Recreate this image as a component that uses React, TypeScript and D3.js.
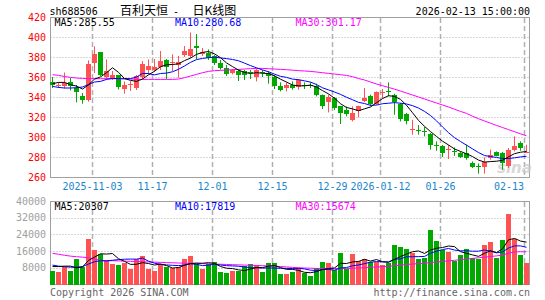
import React from 'react';
import * as d3 from 'd3';

const dates = [
  '2025-10-23','2025-10-24','2025-10-27','2025-10-28','2025-10-29','2025-10-30','2025-10-31',
  '2025-11-03','2025-11-04','2025-11-05','2025-11-06','2025-11-07','2025-11-10','2025-11-11','2025-11-12','2025-11-13','2025-11-14',
  '2025-11-17','2025-11-18','2025-11-19','2025-11-20','2025-11-21','2025-11-24','2025-11-25','2025-11-26','2025-11-27','2025-11-28',
  '2025-12-01','2025-12-02','2025-12-03','2025-12-04','2025-12-05','2025-12-08','2025-12-09','2025-12-10','2025-12-11','2025-12-12',
  '2025-12-15','2025-12-16','2025-12-17','2025-12-18','2025-12-19','2025-12-22','2025-12-23','2025-12-24','2025-12-25','2025-12-26',
  '2025-12-29','2025-12-30','2025-12-31',
  '2026-01-05','2026-01-06','2026-01-07','2026-01-08','2026-01-09','2026-01-12','2026-01-13','2026-01-14','2026-01-15','2026-01-16',
  '2026-01-19','2026-01-20','2026-01-21','2026-01-22','2026-01-23','2026-01-26','2026-01-27','2026-01-28','2026-01-29','2026-01-30',
  '2026-02-02','2026-02-03','2026-02-04','2026-02-05','2026-02-06','2026-02-09','2026-02-10','2026-02-11','2026-02-12','2026-02-13',
];

const openP = [
  355, 351.5, 351, 354.6, 349, 341.3, 336.6, 374, 384.6, 360,
  358.5, 361.6, 348.5, 352, 349, 360, 367, 367.5, 370.5, 377,
  374, 372, 382, 381, 390.5, 383.3, 384.3, 381, 374.5, 369.3,
  364, 366, 365.6, 365, 360, 365, 364, 360, 350.6, 349,
  352.3, 350, 352.3, 352, 351.3, 342.3, 334.6, 339, 330.6, 326.6,
  316.6, 325.6, 335.6, 340.6, 333, 344.3, 346, 342.3, 333, 323,
  307, 307.3, 305.6, 303.3, 292, 291.3, 287, 286, 284, 284,
  274, 271, 270, 279, 285, 284, 270.6, 287.3, 294, 285,
];
const highP = [
  360, 355, 364.5, 359, 352, 344, 376.6, 390.6, 385, 377.5,
  366, 362, 355.5, 356, 362, 376, 377.6, 378, 386, 378,
  382.6, 381, 391, 404.5, 403, 389, 387.6, 382, 377, 372,
  368, 368, 367, 367, 368, 367, 366, 362, 354.6, 354.6,
  355.6, 358, 354.6, 354.6, 353.3, 342.5, 342.3, 340, 331, 330.6,
  330.6, 331.3, 349, 342.3, 345.6, 348, 354.6, 343.3, 334, 324,
  317.3, 312, 310, 304, 295.6, 292, 292, 289.6, 285.6, 292.3,
  275.6, 273.6, 279.6, 287.3, 285.6, 285, 289, 300.6, 295.6, 292.3,
];
const lowP = [
  349, 349, 348.5, 346.6, 334.6, 333.3, 335.3, 364, 361, 357.3,
  357, 347.6, 343.3, 346, 347, 358, 362.6, 365, 367, 358,
  366, 359.3, 380, 379, 377.6, 381, 377, 372, 367.3, 361,
  362.6, 356, 357, 358, 355.6, 360, 353.3, 348, 345.6, 345.6,
  347.3, 347.3, 348, 349, 340.6, 328, 324.6, 327, 313, 320.6,
  315.6, 319.6, 335, 330.6, 332.3, 339, 340.6, 322.3, 315.6, 312.6,
  302.3, 302.3, 300.6, 287.3, 286.3, 280, 278, 281, 279, 277.3,
  269, 263.3, 263.3, 277.3, 280.6, 267.3, 269, 285.6, 286.3, 284,
];
const closeP = [
  352, 352.5, 354, 351.3, 344.6, 337.3, 373.3, 383, 362.3, 365.6,
  362, 350.3, 352.3, 353, 360.6, 373.5, 371.5, 370, 376, 370,
  375, 375, 386, 388.5, 388.6, 385, 379.3, 374.3, 369.3, 362.6,
  366.6, 362, 362.3, 364, 366.6, 364, 360.6, 350.6, 347.3, 352.3,
  349, 356.6, 350.6, 351.3, 342.3, 331.3, 340, 329, 324, 323.3,
  324.3, 330.6, 338.6, 333.3, 344.6, 345, 345, 335, 318.3, 315.6,
  307.6, 306.6, 305, 292.3, 291.3, 284, 287.6, 285, 280, 279.3,
  270.3, 270, 275, 282.5, 281.25, 274.5, 287.5, 291, 289.5, 285.25,
];
const volume = [
  6500, 6000, 8500, 6500, 12400, 8500, 21700, 16500, 14500, 11700,
  9800, 9300, 10100, 7300, 12000, 13600, 7200, 6500, 9600, 8500,
  7700, 8200, 12200, 13600, 9600, 7300, 9600, 10600, 6000, 5500,
  6500, 6500, 8800, 9800, 9300, 6000, 10100, 10100, 5000, 5000,
  6000, 7700, 5500, 4000, 7700, 10900, 10100, 6900, 15200, 7200,
  14600, 11400, 12000, 10900, 10900, 9300, 10100, 18900, 17800, 16800,
  14900, 12000, 12900, 26100, 21000, 16500, 15700, 11400, 14100, 17000,
  12700, 12200, 18700, 20300, 12755, 21300, 34000, 22000, 14000, 10235,
];

// MA values before enough in-window history exists
const priceMa5Lead = [353.3, 354.6, 354.6, 352.3];
const priceMa10Lead = [350.6, 349.6, 349, 349, 349.3, 350, 352.5, 355, 355.6];
const priceMa30 = [
  362.3, 361.6, 360.5, 359.6, 359, 358.6, 358.3, 358.3, 358.3, 358.3,
  358.3, 358.3, 358.3, 358, 357.6, 357.6, 357.6, 357.6, 357.6, 357.6,
  357.6, 358, 359.3, 361, 362.6, 364.3, 365.6, 366.3, 366.6, 367,
  367.3, 367.6, 368, 368.3, 368.6, 368.6, 368.3, 368, 367.6, 367.3,
  366.8, 366.4, 366, 365.6, 365, 364.3, 363.6, 363, 362.3, 361.6,
  360.3, 358.5, 357, 355, 353, 351.3, 349.6, 347.8, 346, 344,
  342, 340, 338, 336, 334, 332, 330, 327.8, 325.6, 323.6,
  320.8, 318.3, 316, 313.8, 311.6, 309.5, 307.4, 305.3, 303.2, 301.17,
];
const volMa5Lead = [8600, 8600, 8800, 8800];
const volMa10Lead = [9300, 8800, 8500, 8300, 8300, 8600, 9800, 10900, 11400];
const volMa30 = [
  14900, 14500, 14000, 13600, 13300, 13100, 12800, 12200, 11600, 11400,
  11400, 11300, 11200, 11100, 11000, 10900, 10800, 10700, 10600, 10500,
  10400, 10300, 10200, 10100, 10100, 10000, 9900, 9800, 9700, 9600,
  9500, 9400, 9300, 9200, 9100, 9000, 8900, 8800, 8600, 8400,
  8200, 8000, 7900, 7800, 7700, 7700, 7700, 7700, 7700, 7700,
  7800, 7900, 8000, 8200, 8400, 8500, 8700, 9000, 9300, 9600,
  9800, 10000, 10200, 10500, 10800, 11000, 11300, 11600, 11900, 12200,
  12500, 12800, 13100, 13400, 13700, 14100, 15000, 15600, 15700, 15674,
];

const priceTicks = [260, 280, 300, 320, 340, 360, 380, 400, 420];
const volTicks = [8000, 16000, 24000, 32000, 40000];
const tickDates = ['2025-11-03', '2025-11-17', '2025-12-01', '2025-12-15', '2025-12-29', '2026-01-12', '2026-01-26', '2026-02-13'];
const fullDateTicks = ['2025-11-03', '2026-01-12'];

const code = 'sh688506';
const titleName = '百利天恒';
const titleKind = '日K线图';
const stamp = '2026-02-13 15:00:00';

function movingAvg(values: number[], n: number, lead: number[]): number[] {
  return values.map((_, i) => (i < n - 1 ? lead[i] : (d3.mean(values.slice(i - n + 1, i + 1)) as number)));
}

const MONO = "'DejaVu Sans Mono', monospace";
const RED = '#ff5353';
const GREEN = '#00a800';
const GRID = '#b0b0b0';

export default function App() {
  const W = 545;
  const H = 300;
  const x = d3.scaleBand<string>().domain(dates).range([50, 530]).padding(0);
  const yP = d3.scaleLinear().domain([260, 420]).range([177, 17]);
  const yV = d3.scaleLinear().domain([0, 40000]).range([284.5, 201]);

  const ma5 = movingAvg(closeP, 5, priceMa5Lead);
  const ma10 = movingAvg(closeP, 10, priceMa10Lead);
  const vma5 = movingAvg(volume, 5, volMa5Lead);
  const vma10 = movingAvg(volume, 10, volMa10Lead);

  const cx = (i: number) => (x(dates[i]) as number) + 2.5;
  const lineP = d3.line<number>().x((_, i) => cx(i)).y((v) => yP(v));
  const lineV = d3.line<number>().x((_, i) => cx(i)).y((v) => yV(v));

  const fmt2 = (v: number) => (Math.round(v * 100) / 100).toFixed(2);
  const fmt0 = (v: number) => Math.round(v).toString();
  const last = dates.length - 1;

  const left = 50.5;
  const right = 529.5;

  return (
    <svg width={W} height={H} style={{ position: 'absolute', left: 0, top: 0, background: '#fff' }}>
      {/* header */}
      <text x={49.5} y={15} fontFamily={MONO} fontSize={10} fill="#000">{code}</text>
      <text x={120} y={15} fontFamily="'Noto Sans CJK SC', sans-serif" fontSize={12} fill="#000">{titleName}</text>
      <text x={173} y={15} fontFamily={MONO} fontSize={10} fill="#000">-</text>
      <text x={192.5} y={15} fontFamily="'Noto Sans CJK SC', sans-serif" fontSize={12} fill="#000">{titleKind}</text>
      <text x={530} y={15} textAnchor="end" fontFamily={MONO} fontSize={10} fill="#000">{stamp}</text>

      {/* price grid */}
      {priceTicks.map((t) => (
        <g key={'pt' + t}>
          {t > 260 && t < 420 && (
            <line x1={left} x2={right} y1={Math.round(yP(t)) + 0.5} y2={Math.round(yP(t)) + 0.5} stroke={GRID} strokeDasharray="1,2" />
          )}
          <text x={46} y={yP(t) + 3.5} textAnchor="end" fontFamily={MONO} fontSize={10} fill="#ff0000">{t}</text>
        </g>
      ))}
      {tickDates.map((d) => {
        const xx = (x(d) as number) + 0.5;
        const label = fullDateTicks.includes(d) ? d : d.slice(5);
        const overflow = xx + label.length * 3 > right;
        return (
          <g key={'dt' + d}>
            <line x1={xx} x2={xx} y1={18} y2={177} stroke={GRID} strokeWidth={1.5} strokeDasharray="5,3" />
            <line x1={xx} x2={xx} y1={202} y2={284} stroke={GRID} strokeWidth={1.5} strokeDasharray="5,3" />
            <text x={overflow ? xx - 0.5 : xx} y={190} textAnchor={overflow ? 'end' : 'middle'} fontFamily={MONO} fontSize={10} fill="#1a86cc">
              {label}
            </text>
          </g>
        );
      })}
      <rect x={left} y={17.5} width={right - left} height={160} fill="none" stroke="#a0a0a0" />

      {/* watermark */}
      <text x={497} y={173} fontFamily="'DejaVu Sans', sans-serif" fontStyle="italic" fontWeight="bold" fontSize={15} fill="#c8c8c8" opacity={0.7}>sina</text>

      {/* candles */}
      {dates.map((d, i) => {
        const up = closeP[i] >= openP[i];
        const color = up ? RED : GREEN;
        const bx = x(d) as number;
        const top = Math.round(yP(Math.max(openP[i], closeP[i])));
        const bot = Math.round(yP(Math.min(openP[i], closeP[i])));
        return (
          <g key={'c' + d}>
            <line x1={bx + 2.5} x2={bx + 2.5} y1={yP(highP[i])} y2={yP(lowP[i])} stroke={color} />
            <rect x={bx} y={top} width={5} height={Math.max(1, bot - top)} fill={color} />
          </g>
        );
      })}

      <path d={lineP(priceMa30) || ''} fill="none" stroke="#ff00ff" />
      <path d={lineP(ma10) || ''} fill="none" stroke="#0000ff" />
      <path d={lineP(ma5) || ''} fill="none" stroke="#000" />

      <text x={54.5} y={25.5} fontFamily={MONO} fontSize={10} fill="#000">MA5:{fmt2(ma5[last])}</text>
      <text x={175} y={25.5} fontFamily={MONO} fontSize={10} fill="#0000ff">MA10:{fmt2(ma10[last])}</text>
      <text x={295.5} y={25.5} fontFamily={MONO} fontSize={10} fill="#ff00ff">MA30:{fmt2(priceMa30[last])}</text>

      {/* volume panel */}
      {volTicks.map((t) => (
        <g key={'vt' + t}>
          {t < 40000 && (
            <line x1={left} x2={right} y1={Math.round(yV(t)) + 0.5} y2={Math.round(yV(t)) + 0.5} stroke={GRID} strokeDasharray="1,2" />
          )}
          <text x={46} y={yV(t) + 3.5} textAnchor="end" fontFamily={MONO} fontSize={10} fill="#a0a0a0">{t}</text>
        </g>
      ))}
      <rect x={left} y={201.5} width={right - left} height={83} fill="none" stroke="#a0a0a0" />
      {dates.map((d, i) => {
        const up = closeP[i] >= openP[i];
        const bx = x(d) as number;
        const top = Math.round(yV(volume[i]));
        return <rect key={'v' + d} x={bx} y={top} width={5} height={Math.round(yV(0)) - top} fill={up ? RED : GREEN} />;
      })}
      <path d={lineV(volMa30) || ''} fill="none" stroke="#ff00ff" />
      <path d={lineV(vma10) || ''} fill="none" stroke="#0000ff" />
      <path d={lineV(vma5) || ''} fill="none" stroke="#000" />

      <text x={54.5} y={209.5} fontFamily={MONO} fontSize={10} fill="#000">MA5:{fmt0(vma5[last])}</text>
      <text x={175} y={209.5} fontFamily={MONO} fontSize={10} fill="#0000ff">MA10:{fmt0(vma10[last])}</text>
      <text x={295.5} y={209.5} fontFamily={MONO} fontSize={10} fill="#ff00ff">MA30:{fmt0(volMa30[last])}</text>

      <text x={50} y={295.5} fontFamily={MONO} fontSize={10} fill="#666">Copyright 2026 SINA.COM</text>
      <text x={530} y={295.5} textAnchor="end" fontFamily={MONO} fontSize={10} fill="#666">http://finance.sina.com.cn</text>
    </svg>
  );
}
